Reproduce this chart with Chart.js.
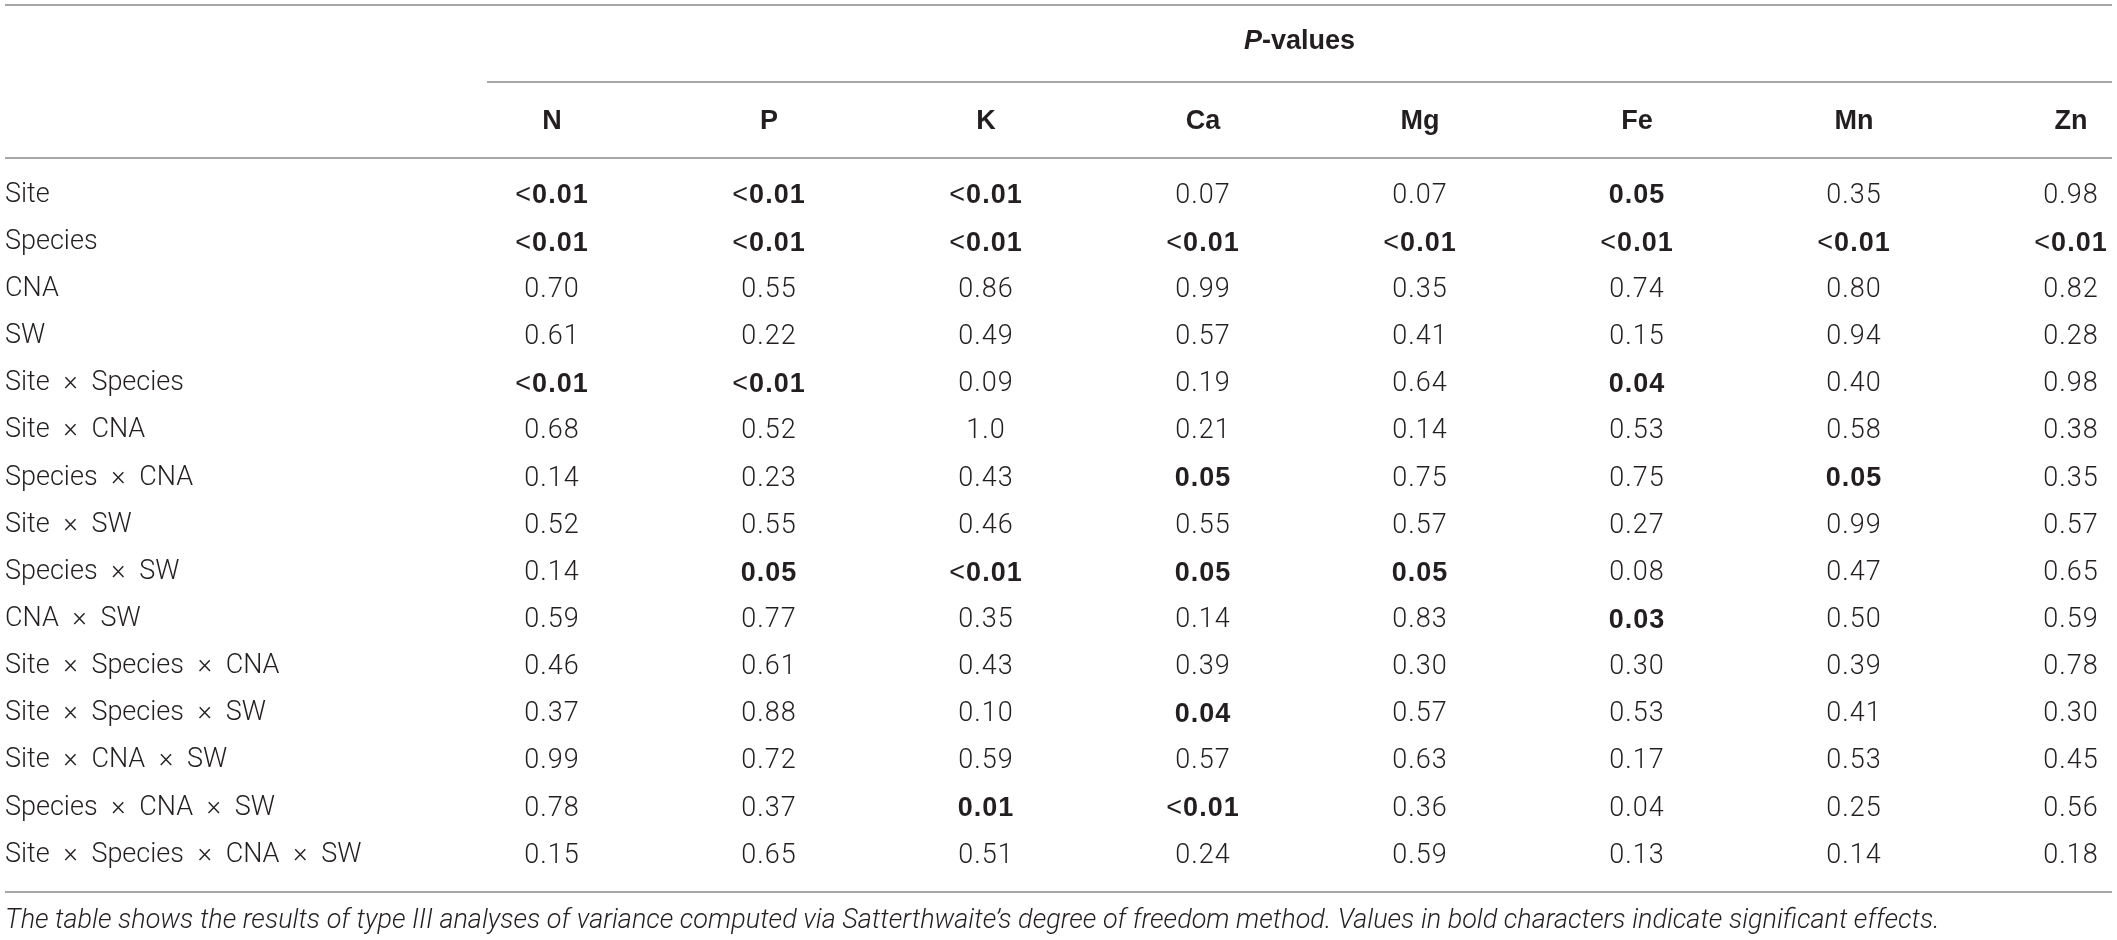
<!DOCTYPE html>
<html><head><meta charset="utf-8">
<script src="https://cdn.jsdelivr.net/npm/chart.js@4.4.1/dist/chart.umd.min.js"></script>
<style>html,body{margin:0;padding:0;background:#fff;overflow:hidden}#wrap{width:2117px;height:940px}</style>
</head><body><div id="wrap"><canvas id="c" width="2117" height="940"></canvas></div>
<script>
const columns = ['N','P','K','Ca','Mg','Fe','Mn','Zn'];
const rows = ['Site','Species','CNA','SW','Site × Species','Site × CNA','Species × CNA','Site × SW','Species × SW','CNA × SW','Site × Species × CNA','Site × Species × SW','Site × CNA × SW','Species × CNA × SW','Site × Species × CNA × SW'];
const groupHeader = 'P-values';
const caption = 'The table shows the results of type III analyses of variance computed via Satterthwaite’s degree of freedom method. Values in bold characters indicate significant effects.';

const valuesN  = ['<0.01','<0.01','0.70','0.61','<0.01','0.68','0.14','0.52','0.14','0.59','0.46','0.37','0.99','0.78','0.15'];
const valuesP  = ['<0.01','<0.01','0.55','0.22','<0.01','0.52','0.23','0.55','0.05','0.77','0.61','0.88','0.72','0.37','0.65'];
const valuesK  = ['<0.01','<0.01','0.86','0.49','0.09','1.0','0.43','0.46','<0.01','0.35','0.43','0.10','0.59','0.01','0.51'];
const valuesCa = ['0.07','<0.01','0.99','0.57','0.19','0.21','0.05','0.55','0.05','0.14','0.39','0.04','0.57','<0.01','0.24'];
const valuesMg = ['0.07','<0.01','0.35','0.41','0.64','0.14','0.75','0.57','0.05','0.83','0.30','0.57','0.63','0.36','0.59'];
const valuesFe = ['0.05','<0.01','0.74','0.15','0.04','0.53','0.75','0.27','0.08','0.03','0.30','0.53','0.17','0.04','0.13'];
const valuesMn = ['0.35','<0.01','0.80','0.94','0.40','0.58','0.05','0.99','0.47','0.50','0.39','0.41','0.53','0.25','0.14'];
const valuesZn = ['0.98','<0.01','0.82','0.28','0.98','0.38','0.35','0.57','0.65','0.59','0.78','0.30','0.45','0.56','0.18'];

const boldN  = [1,1,0,0,1,0,0,0,0,0,0,0,0,0,0];
const boldP  = [1,1,0,0,1,0,0,0,1,0,0,0,0,0,0];
const boldK  = [1,1,0,0,0,0,0,0,1,0,0,0,0,1,0];
const boldCa = [0,1,0,0,0,0,1,0,1,0,0,1,0,1,0];
const boldMg = [0,1,0,0,0,0,0,0,1,0,0,0,0,0,0];
const boldFe = [1,1,0,0,1,0,0,0,0,1,0,0,0,0,0];
const boldMn = [0,1,0,0,0,0,1,0,0,0,0,0,0,0,0];
const boldZn = [0,1,0,0,0,0,0,0,0,0,0,0,0,0,0];

const allValues = [valuesN,valuesP,valuesK,valuesCa,valuesMg,valuesFe,valuesMn,valuesZn];
const allBold = [boldN,boldP,boldK,boldCa,boldMg,boldFe,boldMn,boldZn];

const TEXT = '#231f20';
const LINE = '#a6a6a6';
const FS = 27;
const LIGHT = `300 ${FS}px Roboto, "Liberation Sans", sans-serif`;
const LT_SIGN = `normal ${FS}px "Liberation Sans", Arial, sans-serif`;
const BOLD = `bold ${FS}px "Liberation Sans", Arial, sans-serif`;

const datasets = columns.map((c, j) => ({
  label: c,
  data: rows.map((r, i) => ({x: c, y: r, v: allValues[j][i], b: allBold[j][i]})),
  pointRadius: 0, pointHoverRadius: 0
}));

function drawParts(ctx, parts, cx, cy, spacing) {
  ctx.letterSpacing = spacing || '0px';
  let total = 0;
  parts.forEach(p => { ctx.font = p.f; p.w = ctx.measureText(p.t).width; total += p.w; });
  let x = cx - total / 2;
  ctx.textAlign = 'left';
  parts.forEach(p => { ctx.font = p.f; ctx.fillText(p.t, x, cy); x += p.w; });
  ctx.letterSpacing = '0px';
}

const tablePlugin = {
  id: 'tablePlugin',
  afterDraw(chart) {
    const ctx = chart.ctx;
    const ca = chart.chartArea;
    const xs = chart.scales.x;
    ctx.save();
    ctx.fillStyle = TEXT;
    ctx.textBaseline = 'middle';
    chart.data.datasets.forEach((ds, d) => {
      const meta = chart.getDatasetMeta(d);
      meta.data.forEach((el, i) => {
        const raw = ds.data[i];
        let parts;
        if (raw.b) {
          if (raw.v.startsWith('<')) parts = [{t:'<', f: LT_SIGN}, {t: raw.v.slice(1), f: BOLD}];
          else parts = [{t: raw.v, f: BOLD}];
        } else if (raw.v.startsWith('<')) {
          parts = [{t:'<', f: LT_SIGN}, {t: raw.v.slice(1), f: LIGHT}];
        } else parts = [{t: raw.v, f: LIGHT}];
        drawParts(ctx, parts, el.x, el.y + 1, '1px');
      });
    });
    columns.forEach((c, j) => {
      drawParts(ctx, [{t: c, f: BOLD}], xs.getPixelForTick(j), ca.top - 73);
    });
    const gl = 487, gr = 2112;
    drawParts(ctx, [{t: groupHeader.charAt(0), f: `italic bold ${FS}px "Liberation Sans", Arial, sans-serif`}, {t: groupHeader.slice(1), f: BOLD}], (gl + gr) / 2, 42);
    ctx.strokeStyle = LINE;
    ctx.lineWidth = 2;
    const hline = (x1, x2, y) => { ctx.beginPath(); ctx.moveTo(x1, y); ctx.lineTo(x2, y); ctx.stroke(); };
    hline(5, gr, 5);
    hline(gl, gr, 82);
    hline(5, gr, 158);
    hline(5, gr, 892);
    ctx.font = `italic 300 ${FS}px Roboto, "Liberation Sans", sans-serif`;
    ctx.textAlign = 'left';
    ctx.fillText(caption, 5, 921);
    ctx.restore();
  }
};

new Chart(document.getElementById('c'), {
  type: 'scatter',
  data: { datasets },
  options: {
    responsive: false,
    animation: false,
    devicePixelRatio: 1,
    layout: { padding: { left: 5, right: 46, top: 195, bottom: 85 } },
    plugins: { legend: { display: false }, tooltip: { enabled: false } },
    events: [],
    scales: {
      x: { type: 'category', labels: columns, offset: false, display: false },
      y: {
        type: 'category', labels: rows, offset: false, position: 'left',
        grid: { display: false }, border: { display: false },
        ticks: { autoSkip: false, crossAlign: 'far', color: TEXT, padding: 0,
                 font: { family: 'Roboto, "Liberation Sans", sans-serif', size: FS, weight: '300' },
                 callback(v) { return this.getLabelForValue(v).replace(/ × /g, '\u2002×\u2002'); } },
        afterFit(scale) { scale.width = 547; }
      }
    }
  },
  plugins: [tablePlugin]
});
</script></body></html>
